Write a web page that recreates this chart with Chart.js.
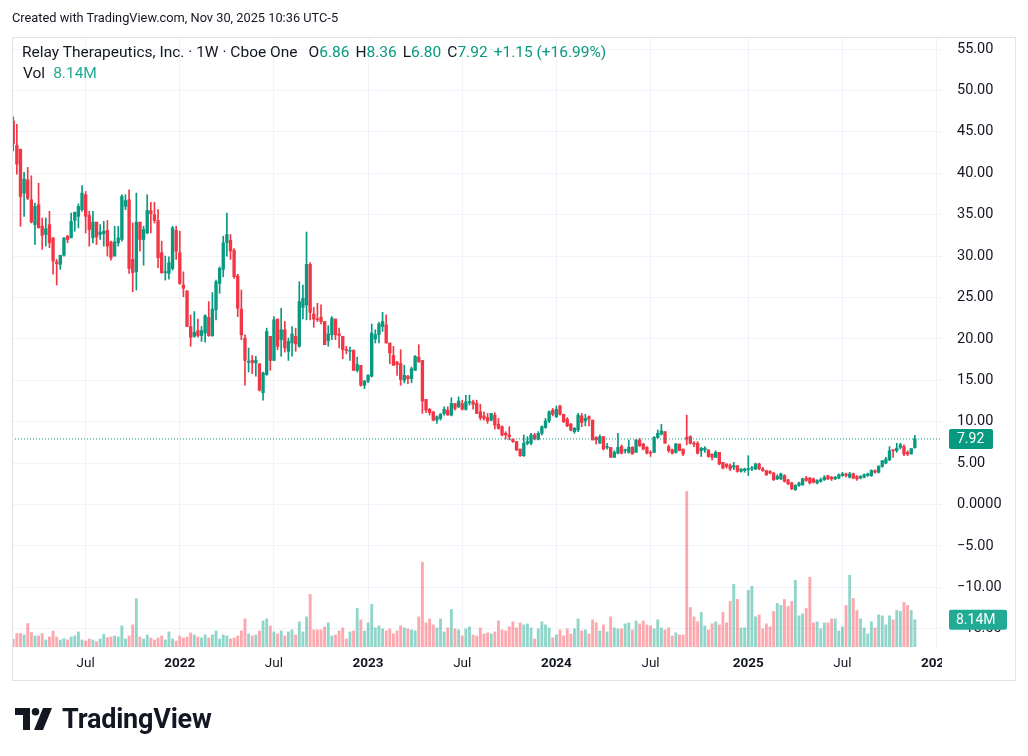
<!DOCTYPE html>
<html>
<head>
<meta charset="utf-8">
<title>Relay Therapeutics 1W</title>
<script src="https://cdn.jsdelivr.net/npm/chart.js@4.4.0/dist/chart.umd.min.js"></script>
<style>
  html, body { margin: 0; padding: 0; background: #fff; }
  body { width: 1028px; height: 756px; position: relative; overflow: hidden;
         font-family: Roboto, "Liberation Sans", sans-serif; color: #131722; }
  #chart { position: absolute; left: 0; top: 0; }
  .frame { position: absolute; left: 12px; top: 37px; width: 1004px; height: 644px;
           border: 1px solid #e0e3eb; box-sizing: border-box; pointer-events: none; }
  #created { position: absolute; left: 12px; top: 10px; font-size: 12.8px; white-space: nowrap; }
  #legend { position: absolute; left: 22px; top: 43px; font-size: 15.5px; white-space: nowrap; }
  #legend .g { color: #089981; }
  #legend .k { margin-left: 6px; }
  #legend .first { margin-left: 11px; }
  #vol { position: absolute; left: 23px; top: 64px; font-size: 15.5px; white-space: nowrap; }
  #vol .g { color: #22ab94; margin-left: 8px; }
  #logo { position: absolute; left: 15px; top: 704px; height: 30px; display: flex; align-items: center; }
  #logo span { font-size: 27px; font-weight: bold; margin-left: 9px; letter-spacing: -0.2px; }
</style>
</head>
<body>
<canvas id="chart" width="1028" height="756"></canvas>
<div class="frame"></div>
<div id="created">Created with TradingView.com, Nov 30, 2025 10:36 UTC-5</div>
<div id="legend">Relay Therapeutics, Inc. · 1W · Cboe One<span class="first">O</span><span class="g">6.86</span><span class="k">H</span><span class="g">8.36</span><span class="k">L</span><span class="g">6.80</span><span class="k">C</span><span class="g">7.92</span><span class="g k">+1.15 (+16.99%)</span></div>
<div id="vol">Vol<span class="g">8.14M</span></div>
<div id="logo">
  <svg width="38" height="22" viewBox="0 0 38 22">
    <path d="M0 0 H15 V22 H8 V7 H0 Z" fill="#131722"/>
    <circle cx="20.5" cy="3.8" r="3.8" fill="#131722"/>
    <path d="M28 0 H37 L28 22 H19 Z" fill="#131722"/>
  </svg>
  <span>TradingView</span>
</div>
<script>
// weekly candles, Feb 15 2021 .. Nov 24 2025 (index = week number)
const opens = [
  46.3,43.4,42.9,37.6,39.2,36.8,33.8,36.2,33.6,32.6,
  33.8,32.2,29.3,29.0,30.1,32.4,32.2,34.3,34.8,35.6,
  37.4,34.9,32.2,34.1,32.6,32.7,33.1,31.7,30.0,31.6,
  32.0,36.0,36.8,29.6,28.1,34.1,32.0,32.8,35.5,35.0,
  34.3,30.4,28.0,27.9,28.5,33.1,30.4,26.5,25.8,21.5,
  20.3,21.0,20.4,20.7,22.6,20.4,23.5,26.7,28.4,31.6,
  31.9,30.7,27.6,23.6,20.1,17.3,17.4,17.1,17.0,13.5,
  15.7,20.3,17.4,22.4,19.9,21.1,18.5,19.5,20.3,19.1,
  23.8,24.1,29.0,23.0,22.4,22.6,22.1,19.8,20.5,22.4,
  20.6,20.3,18.7,18.5,18.6,16.2,16.8,14.4,14.9,15.5,
  20.0,20.5,21.5,21.7,19.5,18.0,17.2,17.0,15.0,15.5,
  15.2,16.2,17.8,17.4,12.7,11.5,11.2,10.2,10.4,11.0,
  11.4,10.8,12.2,11.8,12.2,11.5,12.3,12.4,12.2,11.2,
  10.7,10.5,10.2,10.8,9.7,9.4,8.6,8.4,7.9,7.6,
  6.7,5.9,7.4,7.4,8.4,7.9,8.6,9.3,10.1,11.4,
  10.6,11.9,10.9,10.3,9.7,8.8,9.0,10.7,10.1,10.6,
  10.2,8.1,7.4,8.2,6.9,6.9,5.7,6.2,7.0,6.5,
  6.3,6.9,6.3,7.8,7.3,6.9,6.3,6.3,8.1,8.5,
  8.8,7.0,6.6,6.3,7.3,6.7,8.1,8.2,7.4,7.4,
  6.5,6.6,6.6,6.1,5.7,6.3,5.1,4.9,4.7,4.5,
  4.7,4.0,4.1,4.2,4.3,4.3,4.9,4.3,4.1,4.0,
  3.8,3.1,3.1,3.5,3.0,2.6,1.8,2.3,2.4,3.2,
  3.2,3.1,2.6,2.8,3.0,3.5,3.3,3.1,3.2,3.5,
  3.7,3.3,3.7,3.4,3.2,3.3,3.5,3.5,4.1,3.9,
  4.6,5.0,5.4,6.6,6.5,6.9,7.0,6.3,6.1,6.86
];
const highs = [
  46.8,45.9,42.9,40.1,40.7,39.7,36.4,38.8,34.6,34.6,
  35.4,32.2,29.6,30.1,32.2,32.5,35.2,35.3,36.3,38.5,
  37.8,35.4,35.4,34.1,33.8,34.2,34.3,31.8,33.6,33.6,
  37.4,37.4,38.0,34.0,37.6,34.1,33.6,37.4,36.5,36.5,
  35.6,31.8,30.0,29.9,33.6,33.6,33.0,28.1,25.8,22.9,
  23.3,22.4,21.5,22.9,24.5,25.6,27.1,28.7,32.4,35.2,
  32.6,30.9,27.8,25.9,20.5,18.9,18.0,17.9,17.0,16.0,
  21.3,20.3,22.7,22.4,23.7,22.1,20.1,21.5,21.3,26.9,
  26.5,32.9,29.2,23.8,24.3,24.1,22.1,21.6,22.7,22.4,
  21.3,20.3,19.1,19.0,18.7,17.8,16.8,15.0,15.7,21.8,
  21.1,22.0,23.2,22.9,19.5,19.1,17.3,18.7,16.8,15.6,
  16.6,18.0,19.3,17.4,12.7,11.6,11.2,10.7,11.0,11.8,
  11.8,12.9,12.2,13.0,12.6,13.2,13.2,12.6,12.6,12.1,
  11.2,11.0,11.0,11.1,10.4,9.5,8.8,9.4,7.9,7.6,
  6.7,8.4,8.2,8.6,8.6,8.8,9.5,10.4,11.3,11.6,
  11.9,12.0,10.9,10.5,9.8,9.3,11.0,11.0,10.9,10.7,
  10.2,8.2,8.4,8.2,7.4,6.9,6.5,8.6,7.2,6.7,
  7.8,7.0,7.8,8.0,7.4,7.0,6.5,8.2,9.0,9.7,
  8.8,7.2,6.7,7.4,7.3,6.7,10.8,8.3,7.6,7.6,
  6.9,7.0,6.6,6.1,6.5,6.3,5.1,4.9,4.9,5.1,
  4.7,4.3,4.4,5.9,4.6,5.0,5.0,4.5,4.1,4.1,
  3.9,3.6,3.8,3.6,3.0,2.7,2.4,2.7,3.2,3.4,
  3.3,3.2,3.0,3.2,3.5,3.5,3.4,3.4,3.7,3.9,
  3.8,3.9,3.8,3.5,3.5,3.7,3.8,4.2,4.2,4.7,
  5.3,5.7,7.0,6.6,7.4,7.4,7.2,6.5,6.7,8.36
];
const lows = [
  42.7,39.9,33.6,34.8,36.8,34.0,31.4,33.4,30.8,31.2,
  31.0,27.8,26.5,28.4,30.0,31.6,32.2,33.0,33.4,35.4,
  32.8,31.2,31.6,31.4,32.0,31.2,30.0,29.5,30.0,31.2,
  31.8,35.6,27.9,25.7,25.9,30.6,28.9,32.7,32.8,34.0,
  28.6,27.9,27.1,27.2,28.3,29.6,26.6,25.1,21.5,19.1,
  20.2,20.2,19.7,19.6,20.3,20.3,22.3,25.5,27.5,30.0,
  29.6,27.3,22.7,19.9,14.4,16.0,15.8,15.5,13.7,12.6,
  15.6,16.2,17.4,18.7,17.9,18.4,17.4,17.9,18.5,19.0,
  22.4,22.3,22.3,21.4,22.1,21.8,19.3,19.1,19.9,19.9,
  18.9,17.6,18.2,17.4,16.2,16.0,14.3,14.0,14.7,15.4,
  19.5,19.5,20.9,19.5,17.0,16.8,15.6,14.4,14.7,14.6,
  14.7,16.2,17.2,11.0,11.1,10.8,10.1,9.8,10.2,10.8,
  10.8,10.7,11.4,11.7,11.4,11.4,12.0,11.5,11.0,10.2,
  10.2,9.8,10.1,9.1,9.1,8.3,7.9,7.8,7.5,6.5,
  5.8,5.8,7.2,7.2,7.8,7.8,8.4,9.2,9.9,10.7,
  10.5,10.8,9.9,9.4,8.9,8.6,8.8,9.4,9.5,9.5,
  7.8,7.3,7.4,6.6,6.7,5.7,5.7,6.1,6.1,6.2,
  6.2,6.1,6.3,7.0,6.6,6.1,5.8,6.3,8.0,8.4,
  7.4,6.3,6.1,6.2,6.5,5.9,7.2,7.3,7.0,6.1,
  5.8,6.3,5.7,5.4,5.7,4.8,4.3,4.4,4.1,4.2,
  3.9,3.9,3.9,3.5,4.1,4.2,4.2,4.0,3.5,3.7,
  2.9,3.0,3.0,2.7,2.4,1.8,1.7,2.2,2.3,2.8,
  2.5,2.6,2.5,2.7,2.9,3.0,2.9,3.0,3.1,3.4,
  3.3,3.2,3.1,2.9,3.1,3.2,3.4,3.4,3.8,3.8,
  4.5,4.9,5.3,5.7,6.3,6.7,5.9,5.9,6.1,6.80
];
const closes = [
  43.6,41.1,37.2,39.3,37.0,34.1,36.0,33.4,32.5,33.3,
  31.6,29.4,29.1,30.1,32.2,32.0,34.2,35.3,36.0,37.6,
  34.8,33.2,34.1,32.3,32.9,33.0,31.2,29.8,31.7,32.2,
  37.2,36.7,28.5,28.0,34.1,32.0,33.2,35.5,35.1,34.3,
  29.8,28.0,28.1,29.2,33.4,30.6,26.7,26.1,21.5,20.2,
  20.8,20.4,21.0,22.8,20.4,23.6,26.9,28.5,31.6,32.6,
  30.6,27.5,23.7,20.5,17.4,17.3,17.1,17.4,13.8,15.9,
  20.9,17.4,22.3,19.1,21.1,18.9,19.7,20.6,19.4,24.5,
  24.9,29.0,23.2,22.4,22.3,22.1,19.3,20.6,22.5,20.5,
  20.4,18.7,18.6,18.6,16.2,16.9,14.4,14.9,15.6,20.7,
  20.5,21.8,22.1,19.5,18.3,16.8,16.9,15.1,15.6,15.2,
  16.4,17.9,17.2,12.5,11.4,11.1,10.2,10.6,10.9,11.5,
  10.8,12.2,11.6,12.5,11.5,12.4,12.4,12.1,11.0,10.5,
  10.4,10.1,11.0,9.6,9.2,8.4,8.4,8.2,7.6,6.6,
  5.9,7.4,7.6,8.4,7.9,8.6,9.4,10.1,11.2,10.9,
  11.5,10.9,10.0,9.5,9.0,9.2,10.8,9.9,10.4,10.3,
  7.8,7.8,8.2,6.7,7.0,5.7,6.3,6.9,6.2,6.6,
  6.9,6.1,7.8,7.1,6.7,6.2,6.2,8.1,8.6,8.9,
  7.4,6.5,6.2,7.3,6.5,6.1,7.9,7.4,7.3,6.2,
  6.8,6.8,5.8,5.7,6.3,4.9,4.4,4.6,4.3,4.7,
  4.0,4.3,4.3,4.3,4.4,4.9,4.3,4.1,3.6,3.8,
  3.0,3.4,3.7,2.8,2.5,1.9,2.3,2.6,3.1,2.9,
  2.6,2.7,2.9,3.0,3.3,3.1,3.1,3.3,3.6,3.7,
  3.5,3.7,3.2,3.1,3.4,3.6,3.7,4.1,3.9,4.6,
  5.3,5.5,6.5,6.5,6.8,7.2,6.1,6.1,6.77,7.92
];
// weekly volume, millions
const volumes = [
  2.3,4.0,4.0,3.6,7.0,4.3,3.3,3.3,4.0,2.1,
  3.0,4.8,3.0,2.1,2.5,2.1,3.0,3.3,4.5,2.1,
  1.8,2.4,2.1,1.6,2.4,3.8,2.8,3.0,3.3,3.0,
  6.3,2.4,3.3,6.6,14.4,3.0,2.4,3.6,2.7,2.1,
  2.7,3.3,2.1,4.5,2.4,1.8,3.3,2.7,3.0,4.2,
  3.6,3.0,2.7,3.6,2.7,3.6,4.8,2.4,3.6,3.3,
  2.4,2.7,3.3,4.8,8.4,3.9,3.3,3.6,4.8,7.8,
  8.4,6.3,4.5,3.9,4.8,3.3,4.5,5.1,3.6,7.5,
  4.5,9.0,15.7,5.1,5.1,5.1,6.0,7.2,3.3,3.6,
  4.8,5.7,2.4,4.5,4.8,11.5,8.1,4.8,7.2,12.7,
  5.7,6.3,5.4,4.8,5.4,3.9,4.8,6.3,5.7,5.4,
  5.1,4.8,9.0,25.3,7.2,8.4,6.6,5.7,8.4,4.5,
  5.7,11.2,5.4,5.1,3.3,5.4,6.0,3.6,3.3,5.7,
  3.9,4.2,3.9,4.5,7.8,5.1,4.8,6.0,7.5,5.7,
  7.2,6.6,6.9,5.7,2.4,5.4,7.5,6.6,5.7,2.7,
  3.6,5.1,3.3,5.4,3.9,5.4,8.4,4.8,5.1,3.9,
  8.1,7.2,4.8,6.6,4.5,9.0,5.7,5.4,5.4,6.9,
  7.2,5.1,7.8,6.9,7.8,6.6,6.3,5.4,8.1,5.7,
  5.1,5.7,3.3,4.2,3.6,3.6,46.4,11.8,9.0,7.5,
  10.3,6.3,5.1,6.9,7.5,6.6,10.3,7.2,13.6,18.7,
  14.2,5.7,5.7,16.9,18.1,9.0,9.6,5.4,6.9,6.0,
  10.6,13.0,12.4,14.2,12.1,13.6,19.9,9.3,9.9,11.5,
  20.8,7.2,7.5,5.4,7.2,7.2,8.4,8.4,4.8,6.0,
  12.4,21.4,14.5,10.9,8.4,5.7,3.9,7.5,5.7,9.6,
  9.3,6.6,9.3,8.1,10.9,10.6,13.3,12.4,10.9,8.14
];
// time axis: week index of first bar of each period
const tickWeeks  = [20, 46, 72, 98, 124, 150, 176, 203, 229, 255];
const tickLabels = ['Jul', '2022', 'Jul', '2023', 'Jul', '2024', 'Jul', '2025', 'Jul', '2026'];

const UP = '#089981';
const DOWN = '#f23645';
const VOL_UP = 'rgba(34, 171, 148, 0.5)';
const VOL_DOWN = 'rgba(247, 82, 95, 0.5)';
const GRID = '#f0f3fa';
const FONT = 'Roboto, "Liberation Sans", sans-serif';
const X_MIN = -0.34, X_MAX = 256.5;

const isUp = closes.map((c, i) => c >= opens[i]);
const candleColors = isUp.map(u => u ? UP : DOWN);
const volColors = isUp.map(u => u ? VOL_UP : VOL_DOWN);
const lastClose = closes[closes.length - 1];
const lastVol = volumes[volumes.length - 1];

function box(ctx, x, y, w, h, color) {
    ctx.fillStyle = color;
    ctx.beginPath();
    if (ctx.roundRect) ctx.roundRect(x, y, w, h, 2); else ctx.rect(x, y, w, h);
    ctx.fill();
}

// last price / last volume badges on the price scale
const badges = {
    id: 'badges',
    afterDraw(chart) {
        const { ctx, chartArea, scales } = chart;
        ctx.save();
        // time labels are clipped at the price scale
        ctx.fillStyle = '#fff';
        ctx.fillRect(chartArea.right, chartArea.bottom + 1, 73, 32);

        ctx.font = '14px ' + FONT;
        ctx.textBaseline = 'middle';
        ctx.textAlign = 'left';

        const py = scales.y.getPixelForValue(lastClose);
        box(ctx, chartArea.right + 7, py - 10, 44, 20, UP);
        ctx.fillStyle = '#fff';
        ctx.fillText(lastClose.toFixed(2), chartArea.right + 15, py + 1);

        const vy = scales.yv.getPixelForValue(lastVol);
        box(ctx, chartArea.right + 7, vy - 10, 58, 20, '#22ab94');
        ctx.fillStyle = '#fff';
        ctx.fillText(lastVol.toFixed(2) + 'M', chartArea.right + 14, vy + 1);
        ctx.restore();
    }
};

new Chart(document.getElementById('chart'), {
    type: 'bar',
    data: {
        datasets: [
            {
                label: 'Volume',
                yAxisID: 'yv',
                data: volumes.map((v, i) => ({ x: i, y: v })),
                backgroundColor: volColors,
                barThickness: 2.2,
                grouped: false,
                order: 3
            },
            {
                label: 'Wick',
                yAxisID: 'y',
                data: lows.map((l, i) => ({ x: i, y: [l, highs[i]] })),
                backgroundColor: candleColors,
                barThickness: 1,
                grouped: false,
                order: 2
            },
            {
                label: 'Body',
                yAxisID: 'y',
                data: opens.map((o, i) => ({ x: i, y: [o, closes[i]] })),
                backgroundColor: candleColors,
                barThickness: 2.7,
                minBarLength: 1,
                grouped: false,
                order: 1
            },
            {
                type: 'line',
                label: 'Last',
                yAxisID: 'y',
                data: [{ x: X_MIN, y: lastClose }, { x: X_MAX, y: lastClose }],
                borderColor: UP,
                borderWidth: 1,
                borderDash: [1, 2],
                pointRadius: 0,
                order: 0
            }
        ]
    },
    options: {
        responsive: false,
        animation: false,
        events: [],
        layout: { padding: { left: 12, top: 37, right: 13, bottom: 76 } },
        plugins: {
            legend: { display: false },
            tooltip: { enabled: false }
        },
        scales: {
            x: {
                type: 'linear',
                min: X_MIN,
                max: X_MAX,
                offset: false,
                grid: { color: GRID, offset: false, drawTicks: false },
                border: { display: false },
                afterBuildTicks: scale => { scale.ticks = tickWeeks.map(v => ({ value: v })); },
                afterFit: scale => { scale.height = 33; },
                ticks: {
                    maxRotation: 0,
                    autoSkip: false,
                    padding: 9,
                    color: '#131722',
                    callback: (v, i) => tickLabels[i],
                    font: ctx => ({
                        family: FONT,
                        size: 13.5,
                        weight: /^\d{4}$/.test(tickLabels[ctx.index]) ? 'bold' : 'normal'
                    })
                }
            },
            y: {
                position: 'right',
                min: -17.2,
                max: 56.45,
                grid: { color: GRID, drawTicks: false },
                border: { display: false },
                afterFit: scale => { scale.width = 73; },
                ticks: {
                    stepSize: 5,
                    includeBounds: false,
                    padding: 15,
                    color: '#131722',
                    font: { family: FONT, size: 14.5 },
                    callback: v => v === 0 ? '0.0000' : (v < 0 ? '\u2212' + Math.abs(v).toFixed(2) : v.toFixed(2))
                }
            },
            yv: {
                display: false,
                position: 'right',
                min: 0,
                max: 182
            }
        }
    },
    plugins: [badges]
});
</script>
</body>
</html>
